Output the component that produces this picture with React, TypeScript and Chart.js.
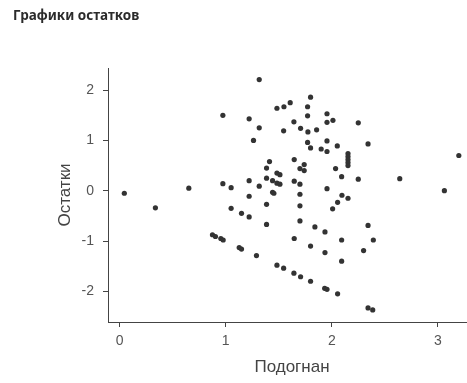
import React, { useEffect, useRef } from "react";
import { Chart, registerables } from "chart.js";

Chart.register(...registerables);

const fitted = [
  0.044, 0.337, 0.652, 0.875, 0.903, 0.954, 0.976, 0.973, 0.973, 1.051,
  1.051, 1.127, 1.149, 1.149, 1.221, 1.221, 1.221, 1.221, 1.262, 1.29,
  1.316, 1.316, 1.316, 1.385, 1.385, 1.385, 1.385, 1.413, 1.442, 1.442,
  1.454, 1.483, 1.483, 1.483, 1.483, 1.511, 1.511, 1.546, 1.546, 1.549,
  1.608, 1.643, 1.646, 1.646, 1.646, 1.643, 1.7, 1.7, 1.7, 1.7,
  1.7, 1.706, 1.706, 1.74, 1.74, 1.772, 1.772, 1.772, 1.775, 1.8,
  1.8, 1.8, 1.8, 1.841, 1.857, 1.9, 1.936, 1.936, 1.933, 1.955,
  1.955, 1.955, 1.955, 1.955, 1.955, 2.008, 2.011, 2.036, 2.052, 2.055,
  2.055, 2.093, 2.096, 2.093, 2.093, 2.153, 2.153, 2.153, 2.153, 2.153,
  2.153, 2.25, 2.25, 2.3, 2.342, 2.342, 2.342, 2.392, 2.386, 2.641,
  3.062, 3.198,
];

const residuals = [
  -0.05, -0.34, 0.05, -0.875, -0.91, -0.95, -0.98, 1.5, 0.14, 0.06,
  -0.35, -1.13, -1.16, -0.45, 1.43, 0.2, -0.11, -0.52, 1.0, -1.29,
  2.21, 1.25, 0.09, 0.45, 0.25, -0.27, -0.67, 0.58, 0.2, -0.03,
  -0.05, 1.64, 0.35, 0.15, -1.48, 0.32, 0.13, 1.19, -1.54, 1.67,
  1.75, 1.37, 0.62, 0.19, -0.95, -1.64, 0.44, 0.13, -0.07, -0.3,
  -0.6, 1.24, -1.71, 0.52, 0.4, 1.67, 1.49, 0.96, 1.17, 1.86,
  0.85, -1.1, -1.8, -0.72, 1.21, 0.83, -0.82, -1.23, -1.94, 1.53,
  1.36, 0.99, 0.78, 0.04, -1.96, -0.36, 1.4, 0.44, 0.89, -0.23,
  -2.05, 0.28, -0.09, -0.98, -1.4, 0.74, 0.68, 0.62, 0.56, 0.5,
  -0.15, 1.35, 0.23, -1.19, 0.93, -0.69, -2.33, -0.98, -2.37, 0.24,
  0.0, 0.7,
];

const xTicks = [0, 1, 2, 3];
const yTicks = [-2, -1, 0, 1, 2];

const chartTitle = "Графики остатков";
const xTitle = "Подогнан";
const yTitle = "Остатки";

const axisFont = "'Liberation Sans', Arial, sans-serif";

export default function App() {
  const ref = useRef<HTMLCanvasElement | null>(null);

  useEffect(() => {
    if (!ref.current) return;
    const chart = new Chart(ref.current, {
      type: "scatter",
      data: {
        datasets: [
          {
            data: fitted.map((x, i) => ({ x, y: residuals[i] })),
            pointRadius: 2.6,
            pointHoverRadius: 2.6,
            backgroundColor: "#333333",
            borderWidth: 0,
          },
        ],
      },
      options: {
        responsive: false,
        animation: false,
        devicePixelRatio: 1,
        layout: { padding: { left: 13, right: 4, top: 0, bottom: 0 } },
        plugins: {
          legend: { display: false },
          tooltip: { enabled: false },
          title: {
            display: true,
            text: chartTitle,
            align: "start",
            color: "#2b2b2b",
            font: { family: "'Noto Sans', sans-serif", size: 13.5, weight: "bold" },
            padding: { top: 8.5, bottom: 43.3 },
          },
        },
        scales: {
          x: {
            type: "linear",
            min: -0.11,
            max: 3.36,
            afterBuildTicks: (s: any) => {
              s.ticks = xTicks.map((v) => ({ value: v }));
            },
            afterFit: (s: any) => {
              s.height = 61;
            },
            grid: { drawOnChartArea: false, drawTicks: true, tickLength: 5, color: "#444444" },
            border: { display: true, color: "#444444", width: 1 },
            ticks: { color: "#555555", padding: 6, font: { family: axisFont, size: 14 } },
            title: {
              display: true,
              text: xTitle,
              color: "#444444",
              font: { family: axisFont, size: 17 },
              padding: { top: 0, bottom: 5 },
            },
          },
          y: {
            type: "linear",
            min: -2.61,
            max: 2.44,
            afterBuildTicks: (s: any) => {
              s.ticks = yTicks.map((v) => ({ value: v }));
            },
            afterFit: (s: any) => {
              s.width = 95;
            },
            grid: { drawOnChartArea: false, drawTicks: true, tickLength: 5, color: "#444444" },
            border: { display: true, color: "#444444", width: 1 },
            ticks: { color: "#555555", padding: 9, font: { family: axisFont, size: 14 } },
            title: {
              display: true,
              text: yTitle,
              color: "#444444",
              font: { family: axisFont, size: 17 },
              padding: { top: 42, bottom: 0 },
            },
          },
        },
      },
    });
    return () => chart.destroy();
  }, []);

  return (
    <div
      style={{
        position: "fixed",
        left: 0,
        top: 0,
        width: 467,
        height: 383,
        overflow: "hidden",
        background: "#ffffff",
      }}
    >
      <canvas ref={ref} width={480} height={383} style={{ display: "block" }} />
    </div>
  );
}
